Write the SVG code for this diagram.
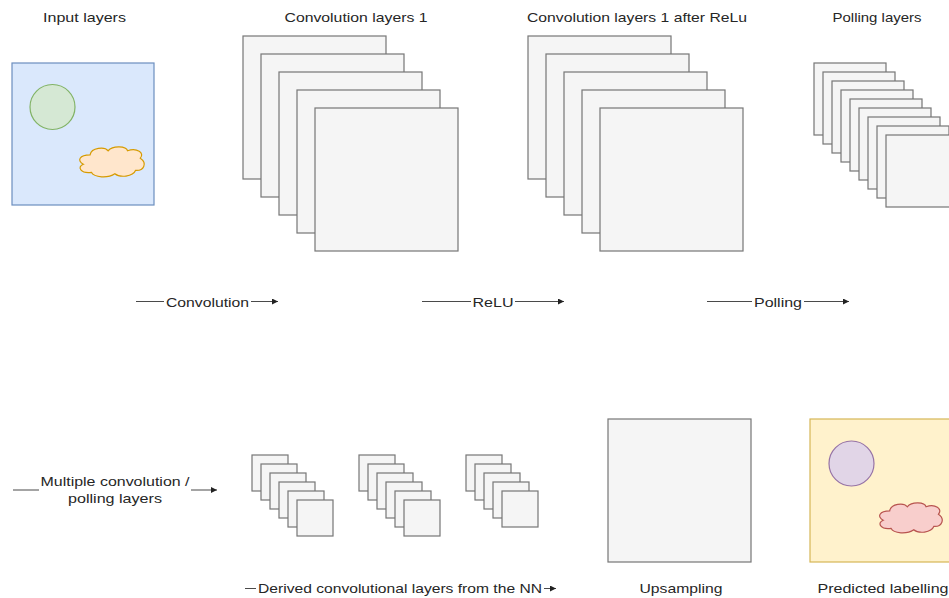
<svg xmlns="http://www.w3.org/2000/svg" width="949" height="598" viewBox="0 0 949 598">
  <style>
    .t{font-family:"Liberation Sans",Arial,Helvetica,sans-serif;font-size:13.5px;fill:#262626;text-anchor:middle}
    .layer{fill:#f5f5f5;stroke:#767676;stroke-width:1.2}
    .edge{stroke:#4a4a4a;stroke-width:1.1;fill:none;marker-end:url(#arrow)}
    .lbl{fill:#ffffff}
    .cloud{vector-effect:non-scaling-stroke;stroke-width:1.2}
  </style>
  <defs>
    <marker id="arrow" viewBox="0 0 10 10" refX="10" refY="5" markerWidth="8" markerHeight="6" markerUnits="userSpaceOnUse" orient="auto">
      <path d="M0,0 L10,5 L0,10 z" fill="#222"/>
    </marker>
    <!-- unit cloud outline, 100 x 100 box -->
    <path id="cloudShape" class="cloud" d="M18,30 C20,8 40,5 45,18 C52,2 72,4 74,18 C88,8 100,25 93,40 C104,55 98,78 86,76 C82,96 62,98 55,86 C45,100 24,98 20,82 C4,86 -2,66 8,58 C-2,48 2,30 18,30 Z"/>
  </defs>

  <rect width="949" height="598" fill="#ffffff"/>

  <!-- input image -->
  <g id="input-layers">
    <text class="t" x="84.5" y="21.5" textLength="83" lengthAdjust="spacingAndGlyphs">Input layers</text>
    <rect x="12" y="63" width="142" height="142" fill="#dae8fc" stroke="#6c8ebf" stroke-width="1.2"/>
    <circle cx="52.5" cy="107" r="22.5" fill="#d5e8d4" stroke="#82b366" stroke-width="1.2"/>
    <use href="#cloudShape" transform="translate(78,144.7) scale(0.67,0.337)" fill="#ffe6cc" stroke="#d79b00"/>
  </g>

  <!-- first convolution stack -->
  <g id="conv-layers-1">
    <text class="t" x="356" y="21.5" textLength="143" lengthAdjust="spacingAndGlyphs">Convolution layers 1</text>
    <rect class="layer" x="243" y="36" width="143" height="143"/>
    <rect class="layer" x="261" y="54" width="143" height="143"/>
    <rect class="layer" x="279" y="72" width="143" height="143"/>
    <rect class="layer" x="297" y="90" width="143" height="143"/>
    <rect class="layer" x="315" y="108" width="143" height="143"/>
  </g>

  <!-- convolution stack after activation -->
  <g id="conv-layers-relu">
    <text class="t" x="637" y="21.5" textLength="220" lengthAdjust="spacingAndGlyphs">Convolution layers 1 after ReLu</text>
    <rect class="layer" x="528" y="36" width="143" height="143"/>
    <rect class="layer" x="546" y="54" width="143" height="143"/>
    <rect class="layer" x="564" y="72" width="143" height="143"/>
    <rect class="layer" x="582" y="90" width="143" height="143"/>
    <rect class="layer" x="600" y="108" width="143" height="143"/>
  </g>

  <!-- pooled stack -->
  <g id="polling-layers">
    <text class="t" x="877" y="21.5" textLength="89" lengthAdjust="spacingAndGlyphs">Polling layers</text>
    <rect class="layer" x="814" y="63" width="72" height="72"/>
    <rect class="layer" x="823" y="72" width="72" height="72"/>
    <rect class="layer" x="832" y="81" width="72" height="72"/>
    <rect class="layer" x="841" y="90" width="72" height="72"/>
    <rect class="layer" x="850" y="99" width="72" height="72"/>
    <rect class="layer" x="859" y="108" width="72" height="72"/>
    <rect class="layer" x="868" y="117" width="72" height="72"/>
    <rect class="layer" x="877" y="126" width="72" height="72"/>
    <rect class="layer" x="886" y="135" width="72" height="72"/>
  </g>

  <!-- derived stacks -->
  <g id="derived-stack-1">
    <rect class="layer" x="252" y="455" width="36" height="36"/>
    <rect class="layer" x="261" y="464" width="36" height="36"/>
    <rect class="layer" x="270" y="473" width="36" height="36"/>
    <rect class="layer" x="279" y="482" width="36" height="36"/>
    <rect class="layer" x="288" y="491" width="36" height="36"/>
    <rect class="layer" x="297" y="500" width="36" height="36"/>
  </g>
  <g id="derived-stack-2">
    <rect class="layer" x="359" y="455" width="36" height="36"/>
    <rect class="layer" x="368" y="464" width="36" height="36"/>
    <rect class="layer" x="377" y="473" width="36" height="36"/>
    <rect class="layer" x="386" y="482" width="36" height="36"/>
    <rect class="layer" x="395" y="491" width="36" height="36"/>
    <rect class="layer" x="404" y="500" width="36" height="36"/>
  </g>
  <g id="derived-stack-3">
    <rect class="layer" x="466" y="455" width="36" height="36"/>
    <rect class="layer" x="475" y="464" width="36" height="36"/>
    <rect class="layer" x="484" y="473" width="36" height="36"/>
    <rect class="layer" x="493" y="482" width="36" height="36"/>
    <rect class="layer" x="502" y="491" width="36" height="36"/>
  </g>

  <!-- upsampled map -->
  <g id="upsampling">
    <rect class="layer" x="608" y="419" width="143" height="143"/>
    <text class="t" x="681" y="593" textLength="83" lengthAdjust="spacingAndGlyphs">Upsampling</text>
  </g>

  <!-- output segmentation -->
  <g id="predicted-labelling">
    <rect x="810" y="419" width="143" height="143" fill="#fff2cc" stroke="#d6b656" stroke-width="1.2"/>
    <circle cx="851.5" cy="463.5" r="22.5" fill="#e1d5e7" stroke="#9673a6" stroke-width="1.2"/>
    <use href="#cloudShape" transform="translate(878,500.7) scale(0.65,0.337)" fill="#f8cecc" stroke="#b85450"/>
    <text class="t" x="883" y="593" textLength="131" lengthAdjust="spacingAndGlyphs">Predicted labelling</text>
  </g>

  <!-- connectors with their labels -->
  <g id="connectors">
    <line class="edge" x1="136" y1="301.5" x2="278" y2="301.5"/>
    <rect class="lbl" x="164" y="294" width="87" height="16"/>
    <text class="t" x="207.5" y="306.5" textLength="83" lengthAdjust="spacingAndGlyphs">Convolution</text>

    <line class="edge" x1="422" y1="301.5" x2="564" y2="301.5"/>
    <rect class="lbl" x="471" y="294" width="44" height="16"/>
    <text class="t" x="493" y="306.5" textLength="41" lengthAdjust="spacingAndGlyphs">ReLU</text>

    <line class="edge" x1="707" y1="301.5" x2="849" y2="301.5"/>
    <rect class="lbl" x="752" y="294" width="52" height="16"/>
    <text class="t" x="778" y="306.5" textLength="48" lengthAdjust="spacingAndGlyphs">Polling</text>

    <line class="edge" x1="13" y1="490" x2="217" y2="490"/>
    <rect class="lbl" x="39" y="470" width="152" height="38"/>
    <text class="t" x="115" y="485.5" textLength="149" lengthAdjust="spacingAndGlyphs">Multiple convolution /</text>
    <text class="t" x="115" y="503" textLength="94" lengthAdjust="spacingAndGlyphs">polling layers</text>

    <line class="edge" x1="245" y1="588.5" x2="556" y2="588.5"/>
    <rect class="lbl" x="256" y="580" width="288" height="17"/>
    <text class="t" x="400" y="593" textLength="284" lengthAdjust="spacingAndGlyphs">Derived convolutional layers from the NN</text>
  </g>
</svg>
